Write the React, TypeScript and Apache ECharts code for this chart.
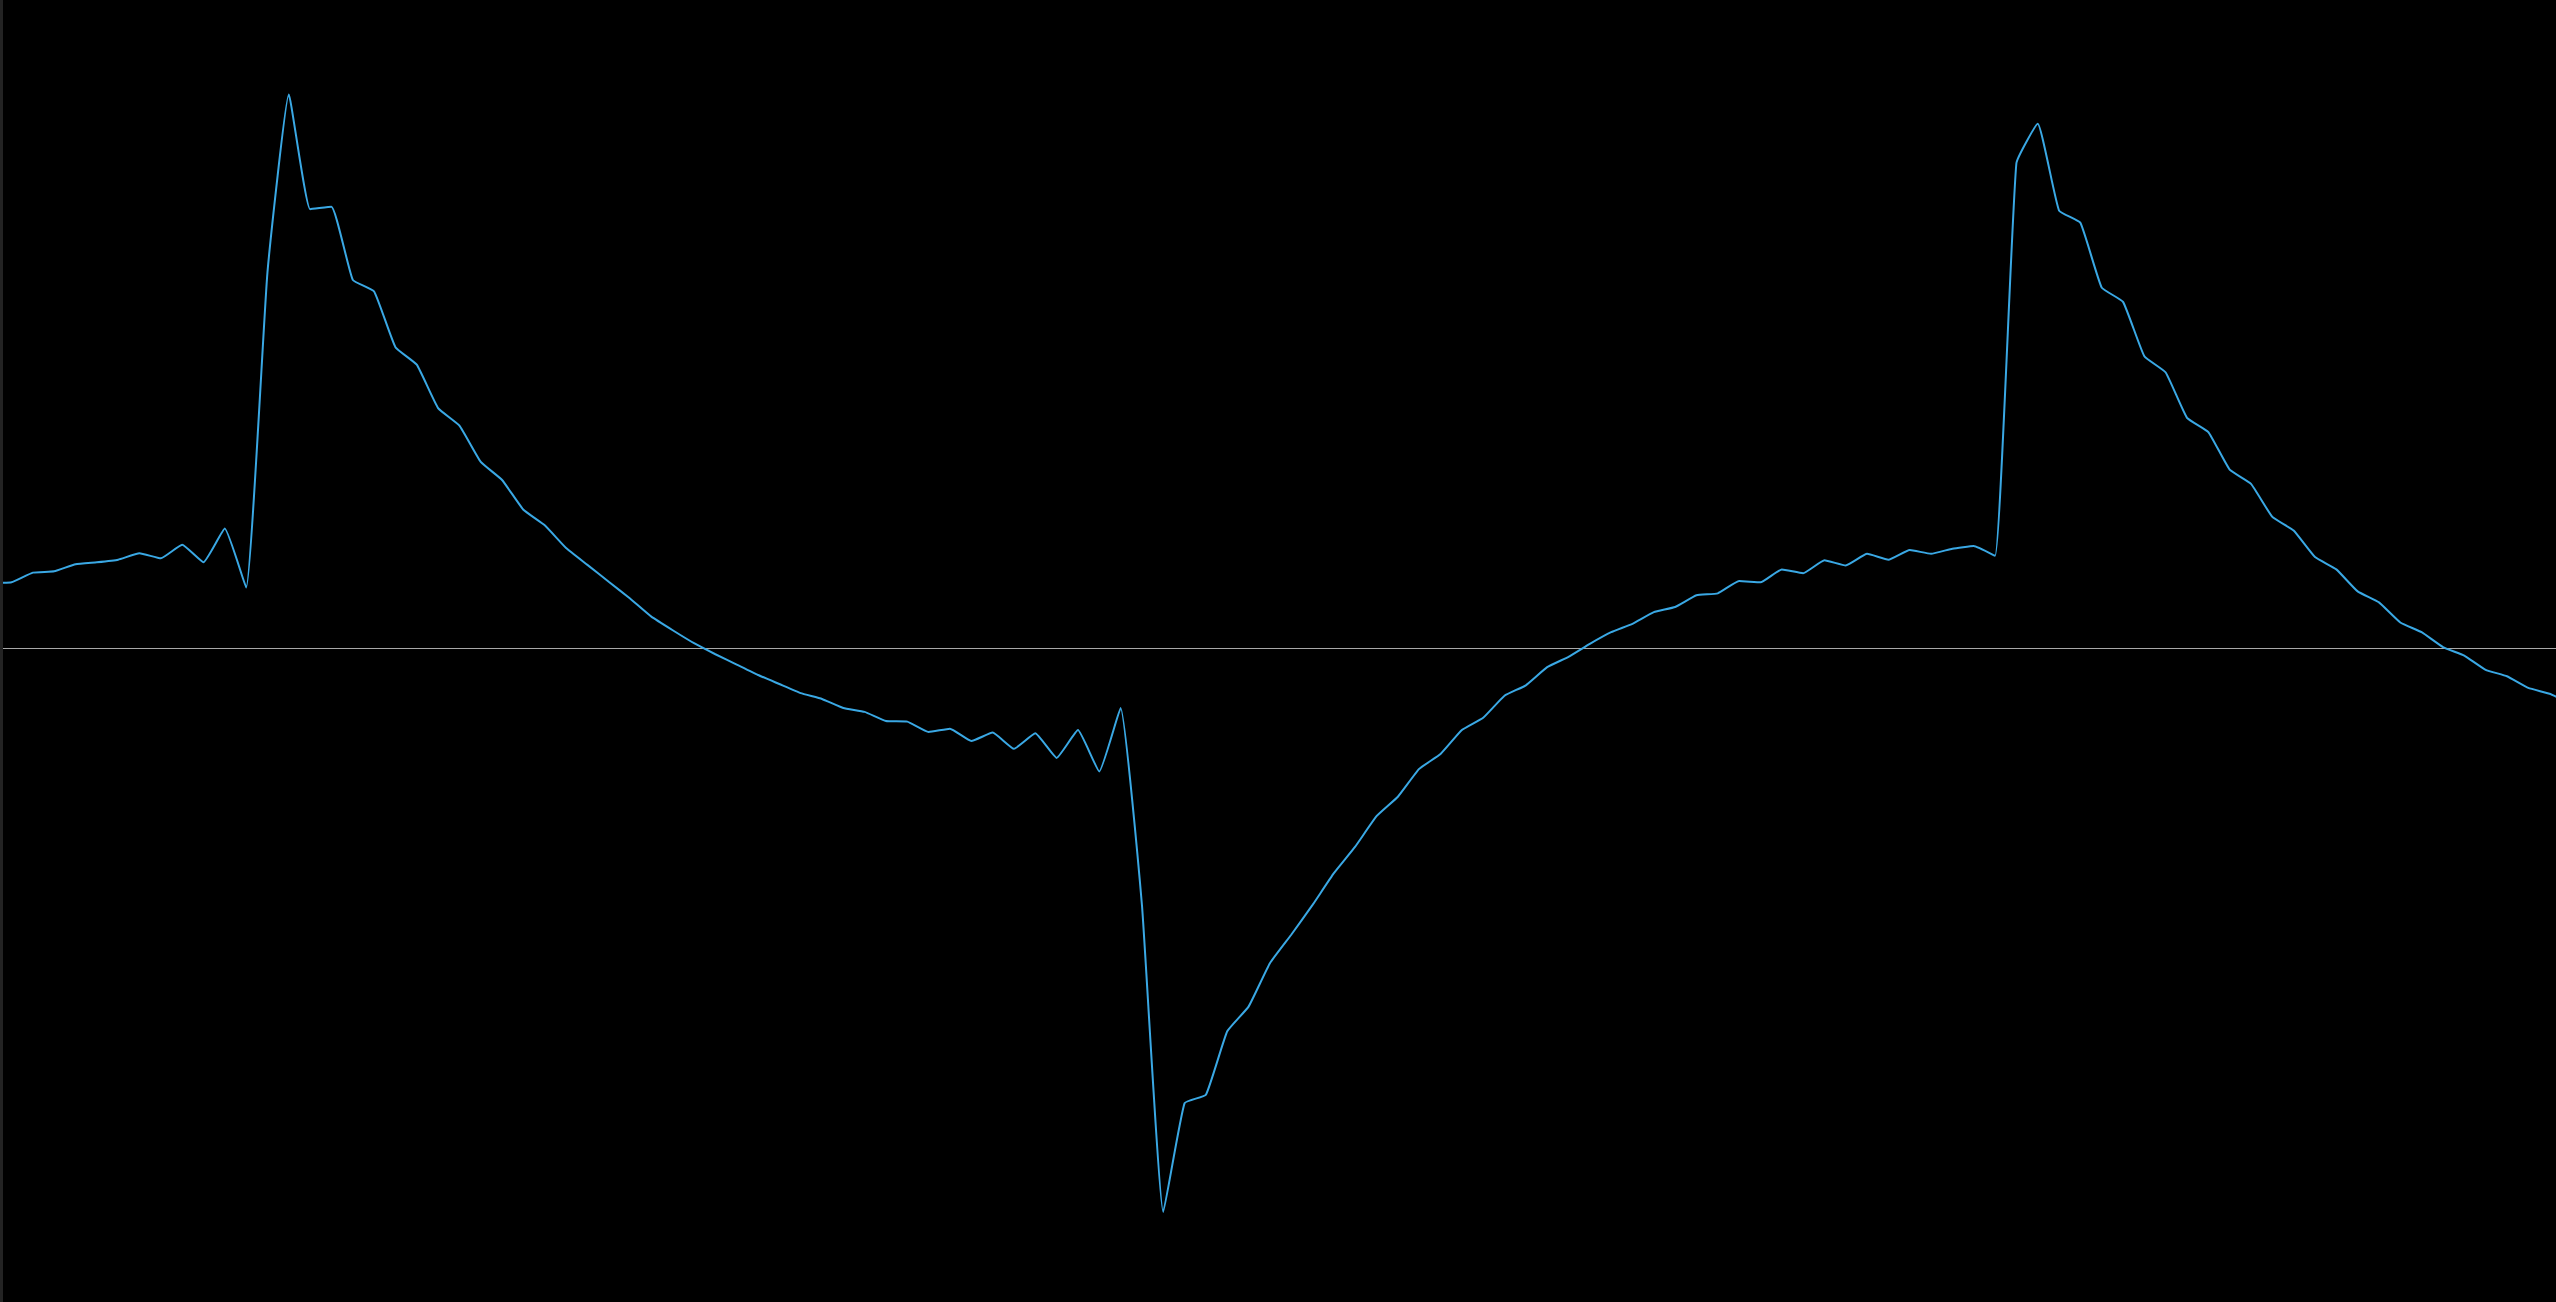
import { useEffect, useRef } from 'react';
import * as echarts from 'echarts';

// sample values, one per step (first and last lie just outside the plot)
const firstSample = -1;
const signal: number[] = [
  10.0, 10.1, 11.6, 11.8, 12.9, 13.2, 13.6, 14.6, 13.8, 15.9,
  13.2, 18.4, 9.3, 58.0, 85.4, 67.7, 68.1, 56.8, 55.0, 46.4,
  43.7, 37.0, 34.3, 28.7, 25.9, 21.3, 18.9, 15.4, 12.8, 10.2,
  7.6, 4.8, 2.7, 0.7, -1.0, -2.6, -4.2, -5.6, -7.0, -7.9,
  -9.3, -9.9, -11.3, -11.4, -13.0, -12.5, -14.4, -13.1, -15.6, -13.2,
  -17.0, -12.7, -19.1, -9.3, -39.7, -87.1, -70.3, -69.0, -59.2, -55.4,
  -48.7, -44.3, -39.7, -34.8, -30.7, -26.0, -23.0, -18.7, -16.4, -12.7,
  -10.8, -7.4, -5.8, -3.0, -1.4, 0.6, 2.4, 3.7, 5.5, 6.3,
  8.1, 8.4, 10.3, 10.1, 12.1, 11.5, 13.5, 12.7, 14.5, 13.6,
  15.1, 14.5, 15.3, 15.7, 14.2, 74.8, 80.9, 67.5, 65.6, 55.6,
  53.4, 45.0, 42.5, 35.5, 33.3, 27.5, 25.3, 20.2, 18.1, 14.0,
  12.1, 8.7, 7.0, 3.9, 2.4, 0.1, -1.2, -3.4, -4.4, -6.2,
  -7.1, -8.6,
];

const xRange = [-0.4, 119.3];
const yRange = [-101, 100];

export default function App() {
  const chartRef = useRef<HTMLDivElement>(null);

  useEffect(() => {
    if (!chartRef.current) return;
    const chart = echarts.init(chartRef.current, null, { renderer: 'svg' });

    const points = signal.map((v, i) => [firstSample + i, v]);

    chart.setOption({
      animation: false,
      backgroundColor: '#000000',
      grid: { left: 0, right: 0, top: 0, bottom: 0 },
      xAxis: {
        type: 'value',
        min: xRange[0],
        max: xRange[1],
        axisLine: { show: true, onZero: true, lineStyle: { color: '#a8a8a8', width: 1 } },
        axisTick: { show: false },
        axisLabel: { show: false },
        splitLine: { show: false },
      },
      yAxis: {
        type: 'value',
        min: yRange[0],
        max: yRange[1],
        axisLine: { show: false },
        axisTick: { show: false },
        axisLabel: { show: false },
        splitLine: { show: false },
      },
      series: [
        {
          type: 'line',
          data: points,
          smooth: 0.12,
          showSymbol: false,
          clip: true,
          lineStyle: { color: '#3aa8e4', width: 2 },
        },
      ],
    });

    const onResize = () => chart.resize();
    window.addEventListener('resize', onResize);
    return () => {
      window.removeEventListener('resize', onResize);
      chart.dispose();
    };
  }, []);

  return (
    <div
      style={{
        position: 'fixed',
        left: 0,
        top: 0,
        width: '100vw',
        height: '100vh',
        background: '#000',
        display: 'flex',
      }}
    >
      <div style={{ width: 3, height: '100%', background: '#232323' }} />
      <div ref={chartRef} style={{ flex: 1, height: '100%' }} />
    </div>
  );
}
